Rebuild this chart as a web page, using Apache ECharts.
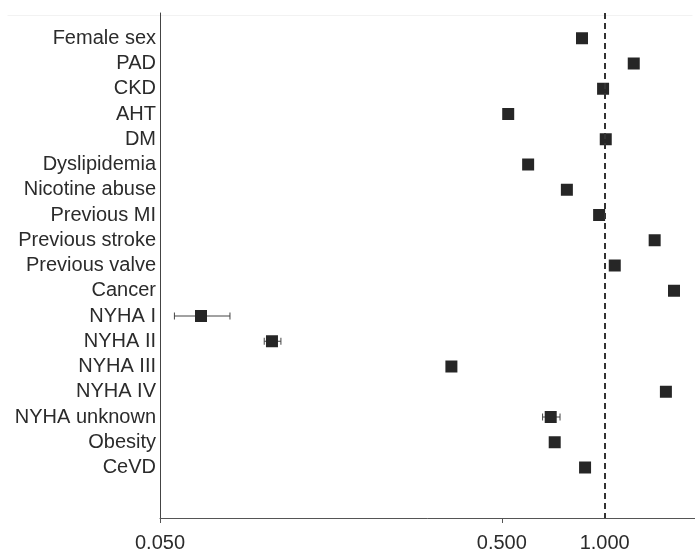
<!DOCTYPE html>
<html>
<head>
<meta charset="utf-8">
<script src="https://cdn.jsdelivr.net/npm/echarts@6/dist/echarts.min.js"></script>
<style>
  html, body { margin: 0; padding: 0; background: #fff; }
  #chart { width: 695px; height: 553px; }
</style>
</head>
<body>
<div id="chart"></div>
<script>
// Row labels (top to bottom); blank slots pad the category axis
const factors = [
  'Female sex', 'PAD', 'CKD', 'AHT', 'DM', 'Dyslipidemia', 'Nicotine abuse',
  'Previous MI', 'Previous stroke', 'Previous valve', 'Cancer', 'NYHA I',
  'NYHA II', 'NYHA III', 'NYHA IV', 'NYHA unknown', 'Obesity', 'CeVD'
];
// Point estimates (ratio, log scale)
const estimates = [
  0.858, 1.216, 0.989, 0.522, 1.007, 0.597, 0.775,
  0.963, 1.40, 1.07, 1.595, 0.0659,
  0.1063, 0.356, 1.51, 0.695, 0.714, 0.876
];
// Confidence limits, null where no bar is drawn
const ciLower = [
  null, null, null, null, null, null, null,
  null, null, null, null, 0.0551,
  0.1009, null, null, 0.658, null, null
];
const ciUpper = [
  null, null, null, null, null, null, null,
  null, null, null, null, 0.0801,
  0.1129, null, null, 0.740, null, null
];
const tickValues = [0.05, 0.5, 1];
const tickMarks = [0.05, 0.5];
const refValue = 1;

const categories = [''].concat(factors, ['', '']);

const pointData = factors.map((f, i) => [estimates[i], f]);
const ciData = factors
  .map((f, i) => [ciLower[i], ciUpper[i], f])
  .filter(d => d[0] != null);

const chart = echarts.init(document.getElementById('chart'));

const xMin = 0.05;
const xMax = 1.9;

const option = {
  animation: false,
  textStyle: { fontFamily: '"Liberation Sans", Arial, sans-serif' },
  // plot runs a little past the right edge, so it looks cut off like the source
  grid: { left: 160, right: -5, top: 13, bottom: 35, outerBoundsMode: 'none' },
  graphic: [{
    type: 'line',
    left: 5, top: 13,
    shape: { x1: 0, y1: 0, x2: 685, y2: 0 },
    style: { stroke: '#f2f2f2', lineWidth: 1 },
    silent: true
  }],
  xAxis: [
    {
      type: 'log',
      logBase: 10,
      min: xMin,
      max: xMax,
      axisLine: { show: true, onZero: false, lineStyle: { color: '#555', width: 1 } },
      axisTick: { show: false },
      axisLabel: {
        customValues: tickValues,
        fontSize: 20,
        color: '#2b2b2b',
        margin: 15,
        formatter: v => Number(v).toFixed(3)
      },
      splitLine: { show: false },
      minorTick: { show: false }
    },
    {
      // tick marks only
      type: 'log',
      logBase: 10,
      min: xMin,
      max: xMax,
      position: 'bottom',
      axisLine: { show: false, onZero: false },
      axisTick: { show: true, length: 5, customValues: tickMarks, lineStyle: { color: '#555' } },
      axisLabel: { show: false },
      splitLine: { show: false },
      minorTick: { show: false }
    }
  ],
  yAxis: {
    type: 'category',
    data: categories,
    inverse: true,
    boundaryGap: false,
    axisLine: { show: true, lineStyle: { color: '#444', width: 1 } },
    axisTick: { show: false },
    axisLabel: { fontSize: 20, color: '#2b2b2b', margin: 4, interval: 0 },
    splitLine: { show: false }
  },
  series: [
    {
      type: 'custom',
      name: 'CI',
      data: ciData,
      encode: { x: [0, 1], y: 2 },
      z: 2,
      renderItem: (params, api) => {
        const lo = api.coord([api.value(0), api.value(2)]);
        const hi = api.coord([api.value(1), api.value(2)]);
        const h = 3.5;
        const style = { stroke: '#444', lineWidth: 1 };
        return {
          type: 'group',
          children: [
            { type: 'line', shape: { x1: lo[0], y1: lo[1], x2: hi[0], y2: hi[1] }, style },
            { type: 'line', shape: { x1: lo[0], y1: lo[1] - h, x2: lo[0], y2: lo[1] + h }, style },
            { type: 'line', shape: { x1: hi[0], y1: hi[1] - h, x2: hi[0], y2: hi[1] + h }, style }
          ]
        };
      }
    },
    {
      type: 'scatter',
      name: 'Estimate',
      data: pointData,
      symbol: 'rect',
      symbolSize: 12,
      z: 3,
      itemStyle: { color: '#262626', opacity: 1 },
      markLine: {
        silent: true,
        symbol: 'none',
        label: { show: false },
        lineStyle: { color: '#333', type: [6, 4], width: 2 },
        data: [{ xAxis: refValue }]
      }
    }
  ]
};

chart.setOption(option);
</script>
</body>
</html>
